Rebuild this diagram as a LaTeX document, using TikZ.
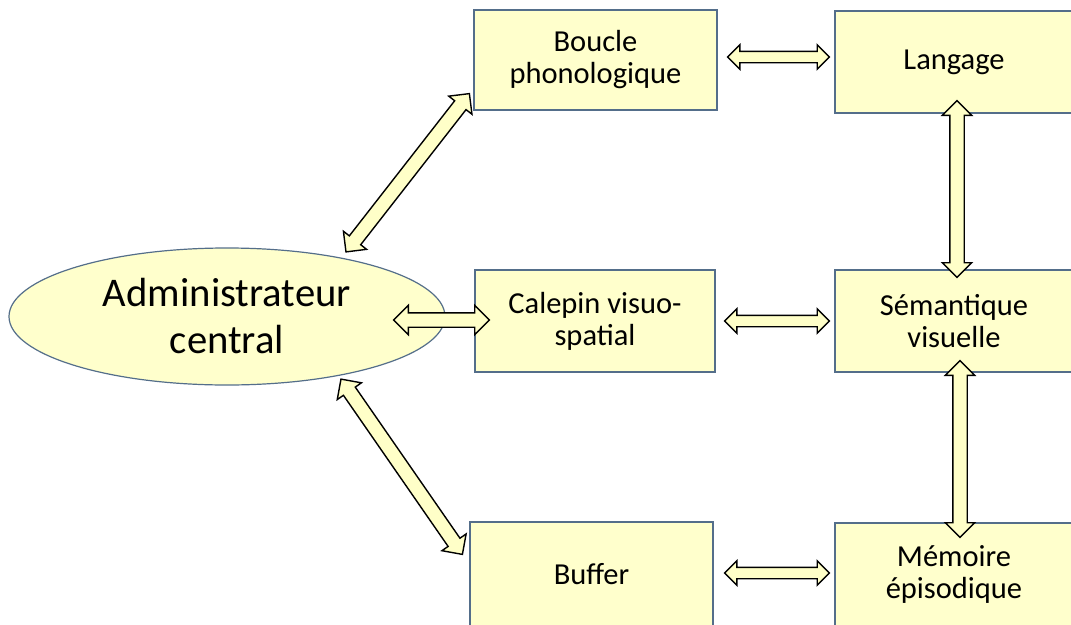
\documentclass[tikz,border=0pt]{standalone}
\usepackage{fontspec}
\setmainfont{Carlito}
\usepackage{tikz}
\usetikzlibrary{shapes.geometric,shapes.arrows,calc}

\definecolor{boite}{RGB}{255,255,204}
\definecolor{bord}{RGB}{84,110,138}
\definecolor{flechefond}{RGB}{255,255,200}

% double arrow placed between two points
\newcommand{\doublefleche}[3][]{%
  \path let \p1=($(#3)-(#2)$), \n1={atan2(\y1,\x1)}, \n2={veclen(\x1,\y1)} in
    node[fleche,#1,rotate=\n1,minimum height=\n2] at ($(#2)!0.5!(#3)$) {};}

\begin{document}
\begin{tikzpicture}[x=1pt,y=-1pt,
    bloc/.style={draw=bord,line width=1.2pt,fill=boite,align=center,inner sep=2pt,
      font=\fontsize{30.5}{32}\selectfont},
    fleche/.style={shape=double arrow,draw=black,line width=1.4pt,fill=flechefond,
      inner xsep=0pt,inner ysep=6.5pt,double arrow head extend=7.5pt,
      double arrow head indent=0pt},
    petite/.style={inner ysep=5pt,double arrow head extend=6.5pt}]
  \clip (0,0) rectangle (1071,624);
  \node[bloc,minimum width=243,minimum height=100] (boucle) at (595.5,60) {Boucle\\phonologique};
  \node[bloc,minimum width=238,minimum height=102] (langage) at (954,62) {Langage};
  \node[bloc,minimum width=240,minimum height=102] (calepin) at (595,321) {Calepin visuo-\\spatial};
  \node[bloc,minimum width=238,minimum height=102] (semantique) at (954,321) {Sémantique\\visuelle};
  \node[bloc,minimum width=243,minimum height=104] (buffer) at (591.5,574) {Buffer};
  \node[bloc,minimum width=238,minimum height=103] (memoire) at (954,574.5) {Mémoire\\épisodique};
  \node[draw=bord,line width=1.2pt,fill=boite,ellipse,inner sep=0pt,align=center,
    minimum width=436,minimum height=137,font=\fontsize{40.7}{47}\selectfont]
    (admin) at (227,316.5) {Administrateur\\central};

  \coordinate (a1) at ([xshift=14,yshift=4]admin.30);
  \coordinate (a2) at ([xshift=-4,yshift=17]boucle.south west);
  \coordinate (b1) at ([xshift=-52,yshift=-3.5]admin.east);
  \coordinate (b2) at ([xshift=15,yshift=1]calepin.west);
  \coordinate (c1) at ([xshift=9,yshift=-2]admin.-30);
  \coordinate (c2) at ([xshift=-7,yshift=-33]buffer.north west);
  \coordinate (d1) at ([xshift=10,yshift=3]boucle.east);
  \coordinate (d2) at ([xshift=-5,yshift=5]langage.west);
  \coordinate (e1) at ([xshift=3,yshift=13]langage.south);
  \coordinate (e2) at ([xshift=3,yshift=-8]semantique.north);
  \coordinate (f1) at ([xshift=9]calepin.east);
  \coordinate (f2) at ([xshift=-5]semantique.west);
  \coordinate (g1) at ([xshift=6,yshift=12]semantique.south);
  \coordinate (g2) at ([xshift=6,yshift=-15]memoire.north);
  \coordinate (h1) at ([xshift=11,yshift=1]buffer.east);
  \coordinate (h2) at ([xshift=-5,yshift=1.5]memoire.west);

  \doublefleche{a1}{a2}
  \doublefleche{b1}{b2}
  \doublefleche{c1}{c2}
  \doublefleche[petite]{d1}{d2}
  \doublefleche{e1}{e2}
  \doublefleche[petite]{f1}{f2}
  \doublefleche{g1}{g2}
  \doublefleche[petite]{h1}{h2}
\end{tikzpicture}
\end{document}
